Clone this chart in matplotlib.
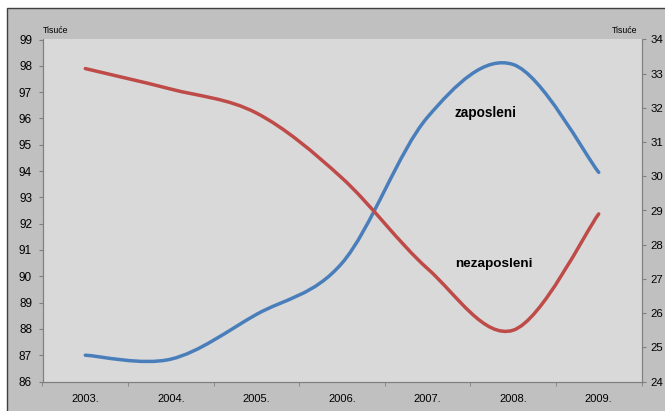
import numpy as np
import matplotlib
matplotlib.use("Agg")
import matplotlib.pyplot as plt
from matplotlib.path import Path
from matplotlib.patches import PathPatch, Rectangle

plt.rcParams['font.family'] = ['Liberation Sans', 'DejaVu Sans']

years = ["2003.", "2004.", "2005.", "2006.", "2007.", "2008.", "2009."]
zaposleni = [87.0, 86.85, 88.55, 90.5, 96.05, 98.05, 93.95]
nezaposleni = [33.15, 32.55, 31.85, 29.95, 27.3, 25.5, 28.9]

blue = "#4a7ebb"
red = "#be4b48"


def smooth_path(xs, ys):
    # excel-like smoothed line: bezier segments through the points
    pts = np.column_stack([xs, ys]).astype(float)
    n = len(pts)
    verts = [pts[0]]
    codes = [Path.MOVETO]
    for i in range(n - 1):
        p0 = pts[i - 1] if i > 0 else pts[i]
        p1 = pts[i]
        p2 = pts[i + 1]
        p3 = pts[i + 2] if i + 2 < n else pts[i + 1]
        c1 = p1 + (p2 - p0) / 6.0
        c2 = p2 - (p3 - p1) / 6.0
        verts += [c1, c2, p2]
        codes += [Path.CURVE4] * 3
    return Path(verts, codes)


fig = plt.figure(figsize=(6.65, 4.11), dpi=100)
fig.patch.set_facecolor("white")
bg = Rectangle((7 / 665, -0.01), 1.0, 1 - 8 / 411 + 0.01,
               transform=fig.transFigure, facecolor="#c0c0c0",
               edgecolor="#404040", linewidth=1.0, zorder=-10)
fig.add_artist(bg)

ax = fig.add_axes([42.5 / 665, 1 - 381.5 / 411, 599 / 665, 342 / 411])
ax.set_facecolor("#d9d9d9")
ax2 = ax.twinx()

x = np.arange(len(years))
ax.add_patch(PathPatch(smooth_path(x, zaposleni), facecolor="none",
                       edgecolor=blue, linewidth=2.5, capstyle="round"))
ax2.add_patch(PathPatch(smooth_path(x, nezaposleni), facecolor="none",
                        edgecolor=red, linewidth=2.5, capstyle="round"))

ax.set_xlim(-0.5, len(years) - 0.5)
ax.set_ylim(86, 99)
ax2.set_ylim(24, 34)
ax.set_yticks(range(86, 100))
ax2.set_yticks(range(24, 35))
ax.set_xticks(x)
ax.set_xticklabels(years)
ax.set_xticks(np.arange(-0.5, len(years)), minor=True)

for a in (ax, ax2):
    for s in a.spines.values():
        s.set_color("#808080")
        s.set_linewidth(0.8)
    a.spines["top"].set_visible(False)

ax.tick_params(axis="x", which="major", length=0, pad=9, labelsize=8)
ax.tick_params(axis="x", which="minor", length=3, color="#808080")
ax.tick_params(axis="y", length=3, color="#808080", labelsize=8.5, pad=4.5)
ax2.tick_params(axis="y", length=3, color="#808080", labelsize=8.2, pad=3.5)

ax.text(0.001, 1.012, "Tisuće", transform=ax.transAxes, fontsize=6.3,
        ha="left", va="bottom")
ax.text(0.993, 1.012, "Tisuće", transform=ax.transAxes, fontsize=6.3,
        ha="right", va="bottom")
ax.text(4.68, 96.2, "zaposleni", fontsize=9.8, fontweight="bold",
        ha="center", va="center")
ax.text(4.78, 90.45, "nezaposleni", fontsize=9.7, fontweight="bold",
        ha="center", va="center")

fig.savefig("out.png", dpi=100)
